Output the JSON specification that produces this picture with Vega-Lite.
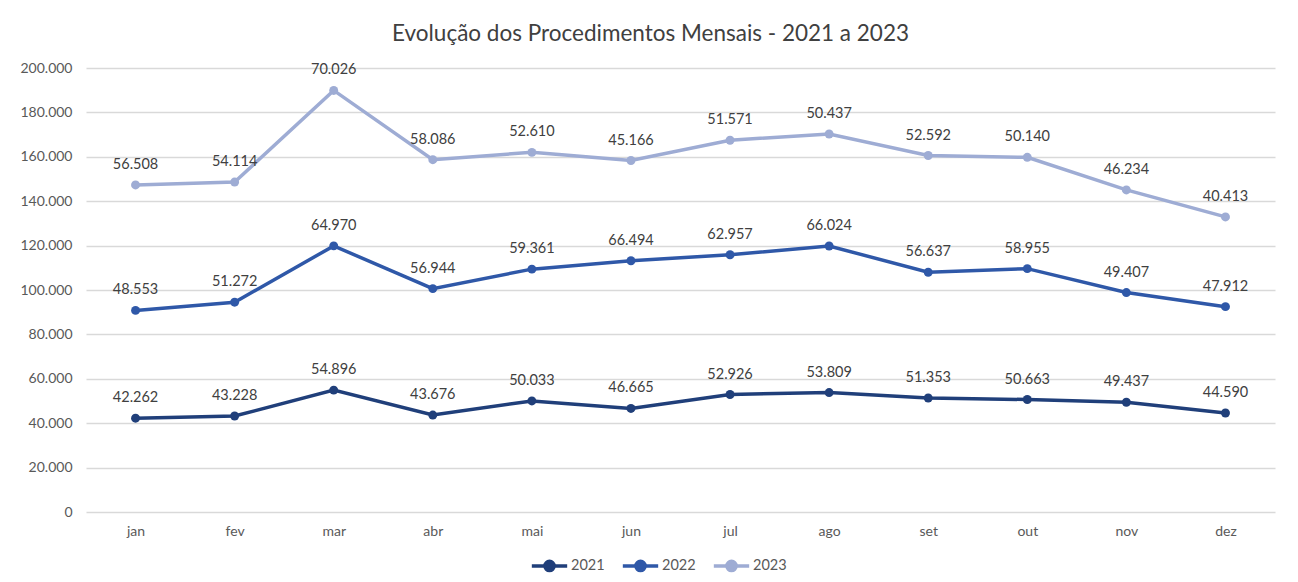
{
  "$schema": "https://vega.github.io/schema/vega-lite/v6.json",
  "width": 1189,
  "height": 444,
  "autosize": {"type": "none"},
  "padding": {"left": 86, "top": 68, "right": 23, "bottom": 70},
  "background": "white",
  "title": {
    "text": "Evolução dos Procedimentos Mensais - 2021 a 2023",
    "fontSize": 22.5,
    "font": "Lato",
    "fontWeight": "normal",
    "color": "#404040",
    "dx": -30,
    "offset": 16
  },
  "data": {
    "values": [
      {"mes": "jan", "ano": "2021", "valor": 42262},
      {"mes": "fev", "ano": "2021", "valor": 43228},
      {"mes": "mar", "ano": "2021", "valor": 54896},
      {"mes": "abr", "ano": "2021", "valor": 43676},
      {"mes": "mai", "ano": "2021", "valor": 50033},
      {"mes": "jun", "ano": "2021", "valor": 46665},
      {"mes": "jul", "ano": "2021", "valor": 52926},
      {"mes": "ago", "ano": "2021", "valor": 53809},
      {"mes": "set", "ano": "2021", "valor": 51353},
      {"mes": "out", "ano": "2021", "valor": 50663},
      {"mes": "nov", "ano": "2021", "valor": 49437},
      {"mes": "dez", "ano": "2021", "valor": 44590},
      {"mes": "jan", "ano": "2022", "valor": 48553},
      {"mes": "fev", "ano": "2022", "valor": 51272},
      {"mes": "mar", "ano": "2022", "valor": 64970},
      {"mes": "abr", "ano": "2022", "valor": 56944},
      {"mes": "mai", "ano": "2022", "valor": 59361},
      {"mes": "jun", "ano": "2022", "valor": 66494},
      {"mes": "jul", "ano": "2022", "valor": 62957},
      {"mes": "ago", "ano": "2022", "valor": 66024},
      {"mes": "set", "ano": "2022", "valor": 56637},
      {"mes": "out", "ano": "2022", "valor": 58955},
      {"mes": "nov", "ano": "2022", "valor": 49407},
      {"mes": "dez", "ano": "2022", "valor": 47912},
      {"mes": "jan", "ano": "2023", "valor": 56508},
      {"mes": "fev", "ano": "2023", "valor": 54114},
      {"mes": "mar", "ano": "2023", "valor": 70026},
      {"mes": "abr", "ano": "2023", "valor": 58086},
      {"mes": "mai", "ano": "2023", "valor": 52610},
      {"mes": "jun", "ano": "2023", "valor": 45166},
      {"mes": "jul", "ano": "2023", "valor": 51571},
      {"mes": "ago", "ano": "2023", "valor": 50437},
      {"mes": "set", "ano": "2023", "valor": 52592},
      {"mes": "out", "ano": "2023", "valor": 50140},
      {"mes": "nov", "ano": "2023", "valor": 46234},
      {"mes": "dez", "ano": "2023", "valor": 40413}
    ]
  },
  "transform": [
    {"window": [{"op": "sum", "field": "valor", "as": "acumulado"}], "groupby": ["mes"], "sort": [{"field": "ano", "order": "ascending"}], "frame": [null, 0]}
  ],
  "encoding": {
    "x": {
      "field": "mes",
      "type": "nominal",
      "sort": ["jan", "fev", "mar", "abr", "mai", "jun", "jul", "ago", "set", "out", "nov", "dez"],
      "scale": {"type": "point", "padding": 0.5},
      "axis": {"title": null, "labelAngle": 0, "domain": false, "ticks": false, "labelPadding": 12, "grid": false}
    },
    "y": {
      "field": "acumulado",
      "type": "quantitative",
      "scale": {"domain": [0, 200000], "nice": false},
      "axis": {"title": null, "values": [0, 20000, 40000, 60000, 80000, 100000, 120000, 140000, 160000, 180000, 200000], "format": ",d", "domain": false, "ticks": false, "labelPadding": 14, "gridColor": "#D9D9D9", "gridWidth": 1.3}
    },
    "color": {
      "field": "ano",
      "type": "nominal",
      "scale": {"domain": ["2021", "2022", "2023"], "range": ["#203F7A", "#2F58A8", "#9EACD4"]},
      "legend": {
        "title": null,
        "orient": "none",
        "legendX": 444,
        "legendY": 478,
        "direction": "horizontal",
        "symbolType": "M -1 0 L -0.26 0 A 0.26 0.26 0 1 1 0.26 0 A 0.26 0.26 0 1 1 -0.26 0 M 0.26 0 L 1 0",
        "symbolSize": 1250,
        "symbolStrokeWidth": 3.5,
        "labelFontSize": 14.5,
        "labelColor": "#595959",
        "labelFont": "Lato",
        "columnPadding": 10,
        "labelOffset": 2
      }
    }
  },
  "layer": [
    {"mark": {"type": "line", "strokeWidth": 3.5}},
    {"mark": {"type": "point", "filled": true, "size": 80, "opacity": 1}},
    {
      "mark": {"type": "text", "dy": -20, "fontSize": 14.5, "font": "Lato", "color": "#404040"},
      "encoding": {
        "text": {"field": "valor", "type": "quantitative", "format": ",d"},
        "color": {"value": "#404040"}
      }
    }
  ],
  "config": {
    "locale": {"number": {"decimal": ",", "thousands": ".", "grouping": [3], "currency": ["R$", ""]}},
    "view": {"stroke": null},
    "axis": {"labelFont": "Lato", "labelFontSize": 14, "labelColor": "#595959"}
  }
}
